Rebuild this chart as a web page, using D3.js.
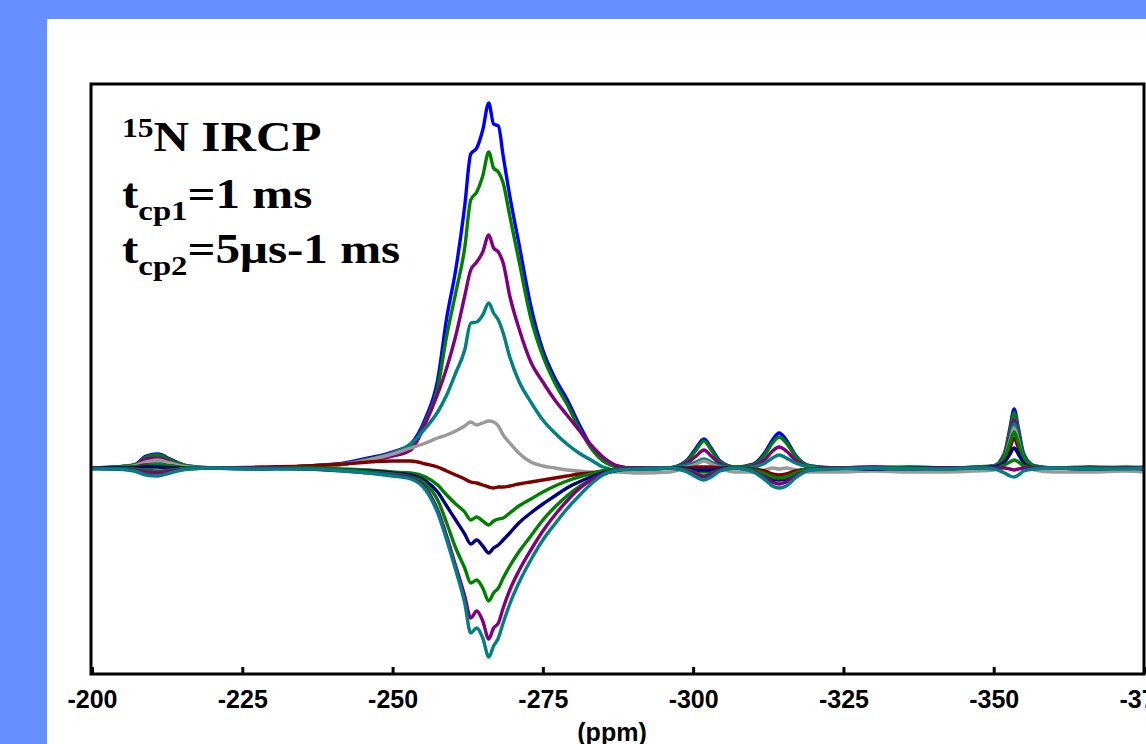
<!DOCTYPE html>
<html>
<head>
<meta charset="utf-8">
<script src="https://cdn.jsdelivr.net/npm/d3@7"></script>
<style>
  html, body { margin: 0; padding: 0; background: #668fff; overflow: hidden; }
  svg { display: block; }
</style>
</head>
<body>
<div id="chart"></div>
<script>
// chemical shift grid (ppm) shared by all traces
const ppm = [-200, -204, -207, -209, -211, -213, -216, -220, -228, -236, -242, -246, -250, -253, -255.5, -257.5,
  -259, -260.5, -262, -263, -264, -265, -266, -266.8, -267.6, -268.4, -269.5, -271, -273, -275, -277, -279,
  -281, -283, -285, -287.5, -291, -296, -299, -300.5, -301.8, -303, -304.5, -307, -310, -312, -313.2, -314.3,
  -315.5, -317, -319.5, -324, -330, -336, -342, -347, -350, -351.8, -352.7, -353.4, -354.1, -355, -356.8,
  -360, -366, -372, -375];

// intensities (arbitrary units), one array per t_cp2 step
const blue1 = [0, 1, 3, 12, 14, 9, 2, 0, -1, 2, 5, 10, 16, 24, 50, 88, 150, 198, 262, 314, 320, 338, 365, 344, 342, 312, 272, 225, 162, 118, 90, 69, 44, 22, 8, 1, -1, 0, 8, 20, 29, 20, 7, 1, 4, 16, 28, 35, 28, 13, 2, 0, 1, 0, 0, 1, 2, 15, 40, 59, 40, 14, 2, 0, 1, 0, 0];
const green1 = [0, 1, 3, 11, 13, 8, 2, 0, 0, 2, 4, 9, 14, 20, 47, 80, 132, 175, 220, 268, 276, 292, 316, 300, 296, 285, 252, 208, 150, 112, 85, 64, 40, 20, 7, 1, -1, 0, 7, 18, 27, 18, 6, 1, 3, 14, 25, 31, 25, 12, 2, 0, 0, 1, 0, 1, 2, 14, 37, 55, 37, 13, 2, 0, 0, 1, 0];
const purple1 = [0, 0, 2, 9, 10, 6, 1, 0, 0, 2, 4, 8, 12, 18, 45, 74, 100, 132, 172, 198, 206, 216, 233, 220, 216, 205, 172, 140, 106, 86, 68, 53, 38, 23, 11, 2, -1, 0, 5, 12, 18, 12, 4, 0, 2, 9, 17, 21, 17, 8, 1, 0, 1, 0, 0, 0, 2, 12, 32, 48, 32, 11, 1, 0, 0, 0, 1];
const teal1 = [0, 0, 2, 6, 7, 4, 1, 0, 0, 2, 4, 8, 15, 24, 40, 56, 73, 95, 118, 145, 146, 153, 165, 155, 148, 135, 111, 87, 66, 48, 35, 24, 15, 8, 1, -2, -2, 0, 3, 6, 9, 6, 2, 0, 1, 5, 10, 13, 10, 5, 1, 0, 0, 1, 0, 0, 2, 10, 29, 44, 29, 10, 1, 0, 0, 0, 0];
const gray1 = [0, 0, 2, 6, 8, 5, 1, 0, 0, 1, 4, 8, 14, 20, 25, 30, 33, 37, 42, 46, 43, 45, 47, 46, 42, 33, 25, 15, 6, 2, 0, -2, -3, -4, -4, -4, -5, -4, 1, 4, 7, 4, 0, -4, -4, -2, 0, -1, 0, -2, -4, -4, -3, -4, -4, -3, -2, 10, 27, 40, 27, 8, -2, -4, -4, -3, -4];
const red1 = [0, 0, 1, 3, 3, 2, 0, 0, 1, 2, 4, 6, 7, 7, 4, 1, -3, -7, -11, -14, -15, -17, -19, -20, -19, -19, -18, -16, -14, -12, -10, -8, -6, -5, -3, -1, 0, 0, 0, 1, 1, 1, 0, 0, -1, -3, -6, -7, -6, -3, -1, 0, 0, -1, 0, 0, 1, 8, 20, 30, 20, 7, 0, 0, -1, 0, 0];
const green2 = [0, 0, 1, 2, 3, 2, 0, 0, 0, 0, -1, -2, -4, -5, -9, -17, -27, -36, -44, -52, -49, -53, -57, -53, -51, -50, -45, -38, -31, -24, -18, -13, -9, -6, -3, -1, 0, 0, -1, -3, -4, -3, -1, 0, -2, -6, -9, -10, -9, -5, -1, 0, 0, 0, 0, 0, 1, 10, 25, 36, 25, 9, 1, 0, 0, 0, 0];
const navy1 = [0, 0, 0, 1, 1, 0, 0, 0, 0, -1, -2, -3, -5, -7, -13, -24, -38, -52, -66, -76, -72, -78, -85, -80, -77, -72, -65, -55, -45, -36, -28, -20, -14, -9, -5, -2, 0, 0, -1, -2, -2, -2, -1, 0, -2, -7, -11, -12, -11, -6, -1, 0, -1, 0, 0, 0, 1, 6, 14, 20, 14, 5, 0, 0, 0, 0, -1];
const green3 = [0, -1, -1, -2, -3, -2, 0, 0, 0, -1, -2, -4, -6, -9, -16, -32, -55, -80, -100, -115, -112, -120, -133, -125, -120, -110, -98, -84, -68, -52, -39, -28, -19, -12, -6, -2, 0, 0, -2, -5, -8, -5, -2, 0, -2, -6, -9, -10, -9, -5, -1, 0, 0, 0, -1, 0, 0, 3, 6, 8, 6, 2, 0, 0, 0, 0, 0];
const purple2 = [0, -1, -2, -4, -5, -3, -1, 0, 0, -1, -3, -5, -7, -10, -20, -42, -68, -98, -128, -150, -143, -153, -171, -160, -155, -140, -122, -103, -82, -63, -47, -33, -21, -12, -6, -2, 0, 0, -3, -6, -9, -6, -2, 0, -3, -10, -14, -16, -14, -8, -2, 0, 0, -1, 0, 0, 0, 0, -1, -2, -1, 0, 0, 0, -1, 0, 0];
const teal2 = [-1, -1, -3, -7, -8, -5, -1, 0, -1, -1, -3, -5, -8, -11, -22, -45, -72, -102, -135, -165, -160, -170, -189, -178, -170, -155, -136, -115, -92, -72, -56, -41, -28, -16, -7, -2, -1, 0, -4, -9, -12, -9, -3, 0, -4, -12, -18, -20, -18, -10, -2, -1, 0, -1, -1, 0, -1, -5, -8, -9, -7, -3, -1, 0, -1, -1, 0];

const traces = [blue1, green1, purple1, teal1, gray1, red1, green2, navy1, green3, purple2, teal2];
const traceColors = ["#0000ff", "#008000", "#800080", "#008080", "#999999", "#800000", "#008000", "#000080", "#008000", "#800080", "#008080"];
const xTicks = [-200, -225, -250, -275, -300, -325, -350, -375];

const W = 1146, H = 744;
const frame = { left: 91, right: 1144, top: 84, bottom: 674 };

const svg = d3.select("#chart").append("svg")
  .attr("width", W)
  .attr("height", H);

svg.append("rect")
  .attr("x", 47).attr("y", 19)
  .attr("width", W - 47).attr("height", H - 19)
  .attr("fill", "#fff");

const x = d3.scaleLinear().domain([-200, -375]).range([92, 1144]);
const y = d3.scaleLinear().domain([-206, 385]).range([674, 83]);

svg.append("clipPath").attr("id", "plotclip")
  .append("rect")
  .attr("x", frame.left).attr("y", frame.top)
  .attr("width", frame.right - frame.left).attr("height", frame.bottom - frame.top);

const line = d3.line()
  .x((d, i) => x(ppm[i]))
  .y(d => y(d))
  .curve(d3.curveMonotoneX);

svg.append("g")
  .attr("clip-path", "url(#plotclip)")
  .selectAll("path")
  .data(traces)
  .join("path")
  .attr("d", line)
  .attr("fill", "none")
  .attr("stroke", (_, i) => traceColors[i])
  .attr("stroke-width", 3.4)
  .attr("stroke-linejoin", "round");

// frame
svg.append("rect")
  .attr("x", frame.left).attr("y", frame.top)
  .attr("width", frame.right - frame.left).attr("height", frame.bottom - frame.top)
  .attr("fill", "none")
  .attr("stroke", "#000")
  .attr("stroke-width", 3);

// bottom axis: ticks point inward
const axis = svg.append("g")
  .attr("transform", `translate(0,${frame.bottom})`)
  .call(d3.axisBottom(x).tickValues(xTicks).tickSize(-7).tickPadding(16).tickFormat(d => String(d)));
axis.select(".domain").remove();
axis.selectAll(".tick line").attr("stroke", "#000").attr("stroke-width", 3);
axis.selectAll(".tick text")
  .attr("fill", "#000")
  .style("font-family", "'Liberation Sans', Arial, sans-serif")
  .style("font-weight", "700")
  .style("font-size", "25px");

svg.append("text")
  .attr("x", 612).attr("y", 741)
  .attr("text-anchor", "middle")
  .style("font-family", "'Liberation Sans', Arial, sans-serif")
  .style("font-weight", "700")
  .style("font-size", "25px")
  .text("(ppm)");

// annotation block
const note = svg.append("g")
  .attr("transform", "translate(122,151) scale(1.17,1)")
  .style("font-family", "'Liberation Serif', 'Times New Roman', serif")
  .style("font-weight", "700")
  .attr("fill", "#000");

const l1 = note.append("text").attr("x", 0).attr("y", 0);
l1.append("tspan").style("font-size", "27px").attr("dy", -14).text("15");
l1.append("tspan").style("font-size", "42px").attr("dy", 14).text("N IRCP");

const l2 = note.append("text").attr("x", 0).attr("y", 57);
l2.append("tspan").style("font-size", "42px").text("t");
l2.append("tspan").style("font-size", "28px").attr("dy", 12).text("cp1");
l2.append("tspan").style("font-size", "42px").attr("dy", -12).text("=1 ms");

const l3 = note.append("text").attr("x", 0).attr("y", 112);
l3.append("tspan").style("font-size", "42px").text("t");
l3.append("tspan").style("font-size", "28px").attr("dy", 12).text("cp2");
l3.append("tspan").style("font-size", "42px").attr("dy", -12).text("=5μs-1 ms");
</script>
</body>
</html>
